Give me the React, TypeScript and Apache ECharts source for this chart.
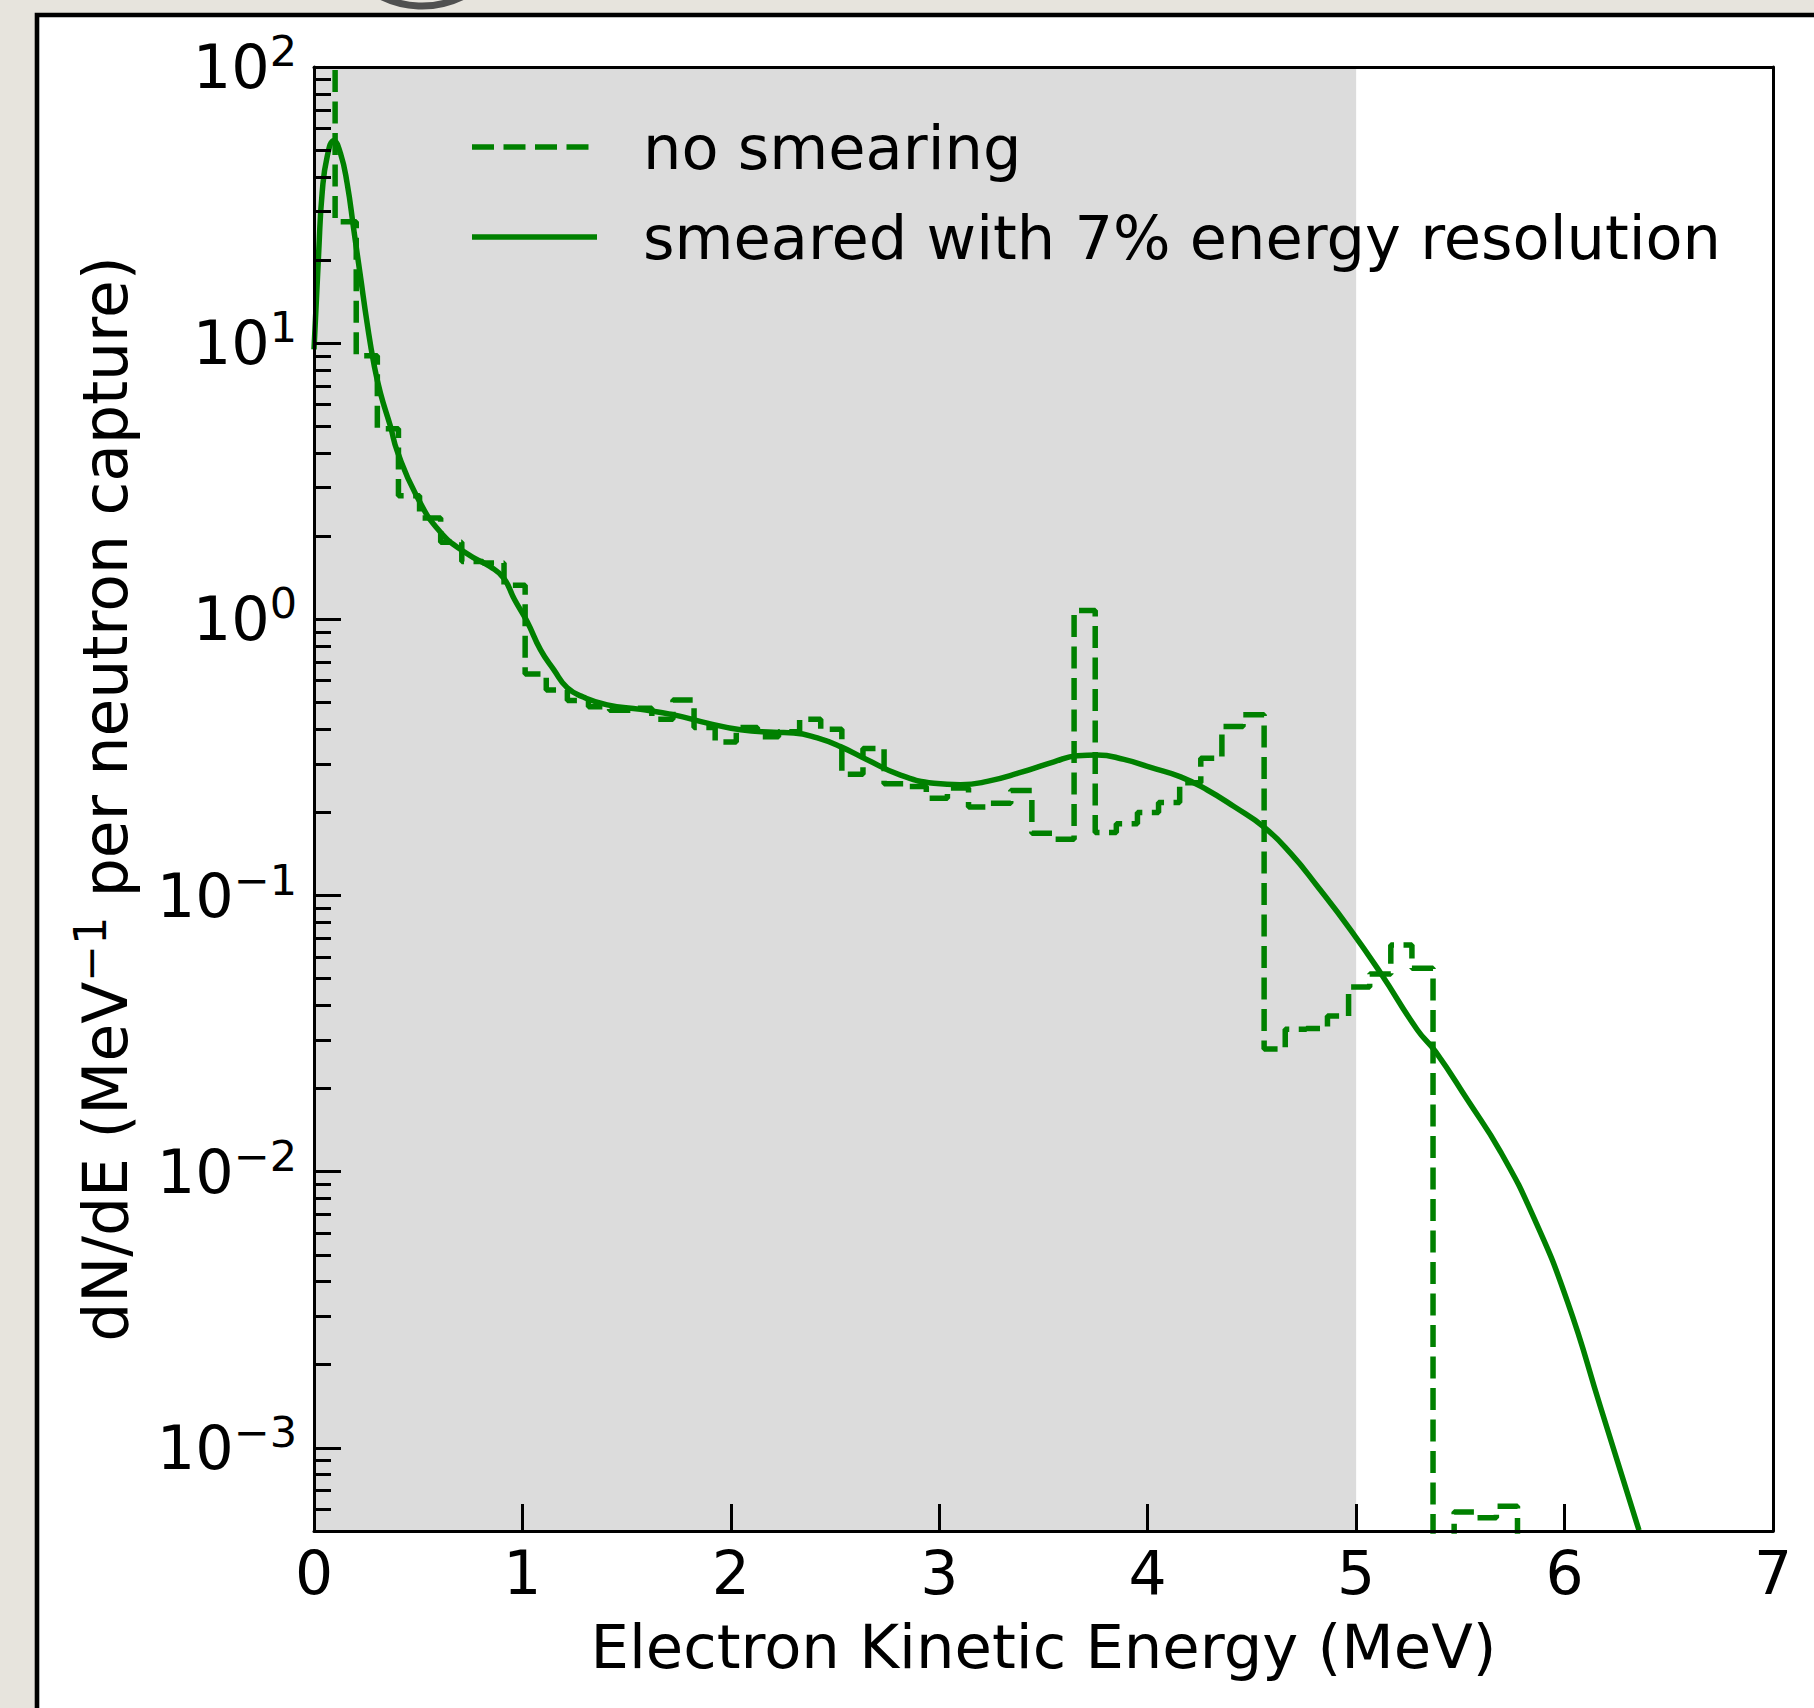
import React, { useEffect, useRef } from "react";
import * as echarts from "echarts";

// Electron spectrum per neutron capture, histogram bins of fixed width from 0 MeV
const binWidth = 0.1013;
const noSmearing = [
  180, 27.5, 9.0, 4.9, 2.8, 2.33, 1.9, 1.62, 1.6, 1.33,
  0.634, 0.555, 0.508, 0.483, 0.469, 0.477, 0.435, 0.51, 0.406, 0.36,
  0.406, 0.376, 0.392, 0.435, 0.4, 0.275, 0.341, 0.254, 0.248, 0.225,
  0.245, 0.209, 0.216, 0.24, 0.168, 0.16, 1.076, 0.169, 0.182, 0.2,
  0.217, 0.256, 0.314, 0.409, 0.451, 0.0278, 0.0328, 0.033, 0.0366, 0.0466,
  0.052, 0.0662, 0.0545, 0.0001, 0.000586, 0.000558, 0.000614, 0.0001,
];

// Same spectrum folded with a 7% energy resolution
const smearedEnergy = [
  0, 0.023, 0.039, 0.063, 0.095, 0.127, 0.159, 0.191, 0.223, 0.255,
  0.287, 0.319, 0.367, 0.4, 0.491, 0.604, 0.733, 0.846, 0.91, 0.962,
  1.023, 1.087, 1.151, 1.215, 1.295, 1.407, 1.567, 1.727, 1.887, 2.047,
  2.206, 2.302, 2.415, 2.526, 2.654, 2.814, 2.974, 3.102, 3.23, 3.39,
  3.55, 3.662, 3.758, 3.886, 4.014, 4.158, 4.286, 4.414, 4.558, 4.686,
  4.814, 4.974, 5.118, 5.294, 5.381, 5.534, 5.693, 5.853, 6.013, 6.173,
  6.357,
];
const smearedValues = [
  9.5, 21.7, 34.9, 47.3, 54.1, 48.7, 37.9, 25.7, 17.4, 11.8,
  8.45, 6.59, 4.99, 4.05, 2.81, 2.08, 1.73, 1.55, 1.41, 1.18,
  0.98, 0.775, 0.656, 0.565, 0.522, 0.49, 0.472, 0.451, 0.421, 0.398,
  0.39, 0.388, 0.372, 0.346, 0.31, 0.273, 0.255, 0.252, 0.259, 0.279,
  0.305, 0.321, 0.323, 0.311, 0.291, 0.269, 0.241, 0.21, 0.177, 0.142,
  0.108, 0.075, 0.0523, 0.0326, 0.0272, 0.0182, 0.0118, 0.0068, 0.0034, 0.0014,
  0.000503,
];

const seriesNames = ["no smearing", "smeared with 7% energy resolution"];
const xRange = [0, 7];
const yRange = [5e-4, 100];
const yDecades = [-3, -2, -1, 0, 1, 2];
const shadedRange = [0, 5];

const FONT = "DejaVu Sans";
const GREEN = "#008000";

export default function App() {
  const ref = useRef<HTMLDivElement>(null);

  useEffect(() => {
    const chart = echarts.init(ref.current!, null, { renderer: "svg" });

    const lg = (v: number) => Math.log10(v);
    const yMin = lg(yRange[0]);
    const yMax = lg(yRange[1]);

    // histogram drawn as steps through the left bin edges
    const histPoints: number[][] = noSmearing.map((v, i) => [i * binWidth, lg(v)]);
    histPoints.push([noSmearing.length * binWidth, lg(noSmearing[noSmearing.length - 1])]);

    const curvePoints = smearedEnergy.map((e, i) => [e, lg(smearedValues[i])]);

    // minor ticks at 2..9 times each power of ten
    const minorTicks: number[] = [];
    for (let n = -4; n <= 1; n++) {
      for (let k = 2; k <= 9; k++) {
        const v = k * Math.pow(10, n);
        if (v > yRange[0] * 1.0001 && v < yRange[1]) minorTicks.push(lg(v));
      }
    }

    const supText = (e: number) => (e < 0 ? "\u2212" + -e : String(e));

    const labelRich = {
      b: { fontSize: 60.5, fontFamily: FONT, color: "#000", lineHeight: 60 },
      s: {
        fontSize: 43,
        fontFamily: FONT,
        color: "#000",
        lineHeight: 28,
        height: 28,
        verticalAlign: "top",
      },
    };
    const nameRich = {
      s: {
        fontSize: 44,
        fontFamily: FONT,
        color: "#000",
        lineHeight: 28,
        height: 28,
        verticalAlign: "top",
      },
    };

    const option: any = {
      animation: false,
      backgroundColor: "transparent",
      grid: { left: 314, top: 67, width: 1459, height: 1464, show: false },
      xAxis: [
        {
          type: "value",
          min: xRange[0],
          max: xRange[1],
          interval: 1,
          position: "bottom",
          z: 5,
          axisLine: { show: true, onZero: false, lineStyle: { color: "#000", width: 3 } },
          axisTick: { show: true, inside: true, length: 27, lineStyle: { color: "#000", width: 3 } },
          axisLabel: {
            fontSize: 60,
            fontFamily: FONT,
            color: "#000",
            lineHeight: 60,
            margin: 12,
          },
          splitLine: { show: false },
          name: "Electron Kinetic Energy (MeV)",
          nameLocation: "middle",
          nameGap: 86,
          nameTextStyle: { fontSize: 60.8, fontFamily: FONT, color: "#000", lineHeight: 60 },
        },
        {
          type: "value",
          min: xRange[0],
          max: xRange[1],
          position: "top",
          z: 5,
          axisLine: { show: true, onZero: false, lineStyle: { color: "#000", width: 3 } },
          axisTick: { show: false },
          axisLabel: { show: false },
          splitLine: { show: false },
        },
      ],
      yAxis: [
        {
          type: "value",
          min: yMin,
          max: yMax,
          position: "left",
          z: 5,
          axisLine: { show: true, onZero: false, lineStyle: { color: "#000", width: 3 } },
          axisTick: {
            show: true,
            inside: true,
            length: 27,
            customValues: yDecades,
            lineStyle: { color: "#000", width: 3 },
          },
          axisLabel: {
            customValues: yDecades,
            margin: 17,
            formatter: (v: number) => `{b|10}{s|${supText(Math.round(v))}}`,
            rich: labelRich,
          },
          splitLine: { show: false },
          name: "dN/dE (MeV{s|\u22121} per neutron capture)",
          nameLocation: "middle",
          nameRotate: 90,
          nameGap: 178,
          nameTextStyle: {
            fontSize: 61.5,
            fontFamily: FONT,
            color: "#000",
            lineHeight: 60,
            rich: nameRich,
          },
        },
        {
          type: "value",
          min: yMin,
          max: yMax,
          position: "left",
          z: 5,
          axisLine: { show: false, onZero: false },
          axisTick: {
            show: true,
            inside: true,
            length: 17,
            customValues: minorTicks,
            lineStyle: { color: "#000", width: 3 },
          },
          axisLabel: { show: false },
          splitLine: { show: false },
        },
        {
          type: "value",
          min: yMin,
          max: yMax,
          position: "right",
          z: 5,
          axisLine: { show: true, onZero: false, lineStyle: { color: "#000", width: 3 } },
          axisTick: { show: false },
          axisLabel: { show: false },
          splitLine: { show: false },
        },
      ],
      series: [
        {
          name: seriesNames[0],
          type: "line",
          xAxisIndex: 0,
          yAxisIndex: 0,
          data: histPoints,
          step: "end",
          showSymbol: false,
          symbol: "none",
          clip: true,
          z: 2,
          lineStyle: { color: GREEN, width: 5.5, type: [22, 9.5], cap: "butt" },
          markArea: {
            silent: true,
            itemStyle: { color: "#dcdcdc", opacity: 1, borderWidth: 0 },
            data: [[{ xAxis: shadedRange[0] }, { xAxis: shadedRange[1] }]],
          },
        },
        {
          name: seriesNames[1],
          type: "line",
          xAxisIndex: 0,
          yAxisIndex: 0,
          data: curvePoints,
          smooth: 0.5,
          showSymbol: false,
          symbol: "none",
          clip: true,
          z: 3,
          lineStyle: { color: GREEN, width: 5.5 },
        },
      ],
      graphic: [
        {
          type: "rect",
          z: -1,
          silent: true,
          shape: { x: 37, y: 15, width: 1900, height: 1800 },
          style: { fill: "#ffffff", stroke: "#000000", lineWidth: 4.6 },
        },
        {
          type: "circle",
          z: -1,
          silent: true,
          shape: { cx: 422, cy: -86, r: 92 },
          style: { fill: "none", stroke: "#505050", lineWidth: 7 },
        },
        {
          type: "line",
          z: 10,
          silent: true,
          shape: { x1: 472, y1: 147, x2: 597, y2: 147 },
          style: { stroke: GREEN, lineWidth: 5.5, lineDash: [22, 9.5] },
        },
        {
          type: "text",
          z: 10,
          silent: true,
          x: 643,
          y: 148,
          style: {
            text: seriesNames[0],
            fontSize: 60.6,
            fontFamily: FONT,
            fill: "#000",
            align: "left",
            verticalAlign: "middle",
          },
        },
        {
          type: "line",
          z: 10,
          silent: true,
          shape: { x1: 472, y1: 237, x2: 597, y2: 237 },
          style: { stroke: GREEN, lineWidth: 5.5 },
        },
        {
          type: "text",
          z: 10,
          silent: true,
          x: 643,
          y: 238,
          style: {
            text: seriesNames[1],
            fontSize: 60.6,
            fontFamily: FONT,
            fill: "#000",
            align: "left",
            verticalAlign: "middle",
          },
        },
      ],
    };

    chart.setOption(option);
    return () => chart.dispose();
  }, []);

  return (
    <div
      style={{
        position: "fixed",
        left: 0,
        top: 0,
        width: 1814,
        height: 1708,
        background: "#e7e4dd",
      }}
    >
      <div ref={ref} style={{ width: 1814, height: 1708 }} />
    </div>
  );
}
